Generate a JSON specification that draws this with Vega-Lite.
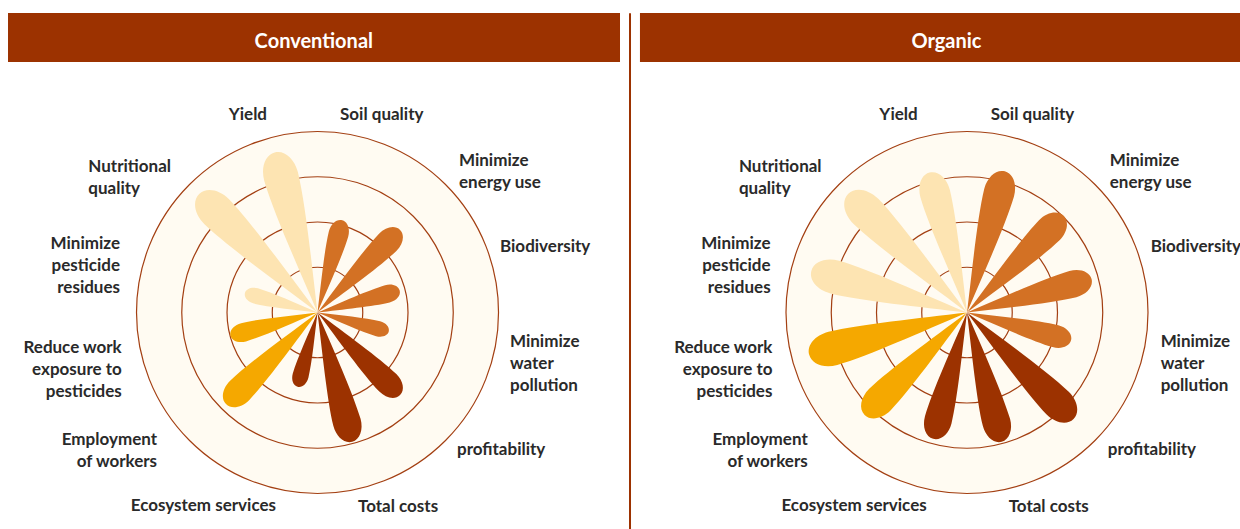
{
  "$schema": "https://vega.github.io/schema/vega-lite/v6.json",
  "padding": 0,
  "background": "white",
  "spacing": 0,
  "bounds": "flush",
  "config": {
    "view": {"stroke": null},
    "concat": {"spacing": 0},
    "text": {"font": "Lato", "fontSize": 17, "fontWeight": "bold", "color": "#2a2a2a", "lineHeight": 22, "baseline": "alphabetic"}
  },
  "datasets": {
    "petals": [
      {"system": "Conventional", "criterion": "Soil quality", "group": "Environmental", "value": 2.11},
      {"system": "Conventional", "criterion": "Minimize energy use", "group": "Environmental", "value": 2.58},
      {"system": "Conventional", "criterion": "Biodiversity", "group": "Environmental", "value": 1.88},
      {"system": "Conventional", "criterion": "Minimize water pollution", "group": "Environmental", "value": 1.63},
      {"system": "Conventional", "criterion": "profitability", "group": "Economic", "value": 2.58},
      {"system": "Conventional", "criterion": "Total costs", "group": "Economic", "value": 2.96},
      {"system": "Conventional", "criterion": "Ecosystem services", "group": "Economic", "value": 1.70},
      {"system": "Conventional", "criterion": "Employment of workers", "group": "Social", "value": 2.86},
      {"system": "Conventional", "criterion": "Reduce work exposure to pesticides", "group": "Social", "value": 1.99},
      {"system": "Conventional", "criterion": "Minimize pesticide residues", "group": "Production", "value": 1.66},
      {"system": "Conventional", "criterion": "Nutritional quality", "group": "Production", "value": 3.70},
      {"system": "Conventional", "criterion": "Yield", "group": "Production", "value": 3.66},
      {"system": "Organic", "criterion": "Soil quality", "group": "Environmental", "value": 3.23},
      {"system": "Organic", "criterion": "Minimize energy use", "group": "Environmental", "value": 3.02},
      {"system": "Organic", "criterion": "Biodiversity", "group": "Environmental", "value": 2.85},
      {"system": "Organic", "criterion": "Minimize water pollution", "group": "Environmental", "value": 2.38},
      {"system": "Organic", "criterion": "profitability", "group": "Economic", "value": 3.33},
      {"system": "Organic", "criterion": "Total costs", "group": "Economic", "value": 2.96},
      {"system": "Organic", "criterion": "Ecosystem services", "group": "Economic", "value": 2.89},
      {"system": "Organic", "criterion": "Employment of workers", "group": "Social", "value": 3.20},
      {"system": "Organic", "criterion": "Reduce work exposure to pesticides", "group": "Social", "value": 3.61},
      {"system": "Organic", "criterion": "Minimize pesticide residues", "group": "Production", "value": 3.56},
      {"system": "Organic", "criterion": "Nutritional quality", "group": "Production", "value": 3.71},
      {"system": "Organic", "criterion": "Yield", "group": "Production", "value": 3.20}
    ],
    "rings": [{"ring": 1}, {"ring": 2}, {"ring": 3}, {"ring": 4}]
  },
  "hconcat": [
    {
      "width": 631,
      "height": 529,
      "data": {"name": "petals"},
      "transform": [{"filter": {"field": "system", "equal": "Conventional"}}],
      "resolve": {"scale": {"size": "independent"}},
      "layer": [
        {
          "transform": [{"filter": {"field": "criterion", "equal": "Yield"}}],
          "mark": {"type": "rect", "color": "#9C3200"},
          "encoding": {
            "x": {"datum": -6.840, "scale": {"domain": [-7.017, 6.928], "nice": false, "zero": false}, "axis": null},
            "x2": {"datum": 6.685},
            "y": {"datum": 6.619, "scale": {"domain": [-4.785, 6.906], "nice": false, "zero": false}, "axis": null},
            "y2": {"datum": 5.536}
          }
        },
        {
          "transform": [{"filter": {"field": "criterion", "equal": "Yield"}}],
          "mark": {"type": "text", "align": "center", "fontSize": 20, "color": "#ffffff"},
          "encoding": {
            "x": {"datum": -0.082, "scale": {"domain": [-7.017, 6.928], "nice": false, "zero": false}, "axis": null},
            "y": {"datum": 5.852, "scale": {"domain": [-4.785, 6.906], "nice": false, "zero": false}, "axis": null},
            "text": {"field": "system"}
          }
        },
        {
          "transform": [{"filter": {"field": "criterion", "equal": "Yield"}}],
          "mark": {"type": "rule", "color": "#9C3200", "strokeWidth": 2},
          "encoding": {
            "x": {"datum": 6.906, "scale": {"domain": [-7.017, 6.928], "nice": false, "zero": false}, "axis": null},
            "y": {"datum": 6.613, "scale": {"domain": [-4.785, 6.906], "nice": false, "zero": false}, "axis": null},
            "y2": {"datum": -4.785}
          }
        },
        {
          "data": {"name": "rings"},
          "transform": [{"filter": "datum.ring === 4"}],
          "mark": {"type": "point", "shape": "circle", "filled": true, "fill": "#FFFBF2", "stroke": "#A33F12", "strokeWidth": 1.2, "opacity": 1},
          "encoding": {
            "x": {"datum": 0, "scale": {"domain": [-7.017, 6.928], "nice": false, "zero": false}, "axis": null},
            "y": {"datum": 0, "scale": {"domain": [-4.785, 6.906], "nice": false, "zero": false}, "axis": null},
            "size": {"field": "ring", "type": "quantitative", "scale": {"type": "pow", "exponent": 2, "domain": [0, 4], "range": [0, 131044]}, "legend": null}
          }
        },
        {
          "data": {"name": "rings"},
          "transform": [{"filter": "datum.ring < 4"}],
          "mark": {"type": "point", "shape": "circle", "filled": false, "stroke": "#A33F12", "strokeWidth": 1.2, "opacity": 1},
          "encoding": {
            "x": {"datum": 0, "scale": {"domain": [-7.017, 6.928], "nice": false, "zero": false}, "axis": null},
            "y": {"datum": 0, "scale": {"domain": [-4.785, 6.906], "nice": false, "zero": false}, "axis": null},
            "size": {"field": "ring", "type": "quantitative", "scale": {"type": "pow", "exponent": 2, "domain": [0, 4], "range": [0, 131044]}, "legend": null}
          }
        },
        {
          "mark": {"type": "point", "shape": "M0,0C-0.085,-0.6 -0.2,-1.3 -0.21,-1.7C-0.21,-1.87 -0.12,-2 0,-2C0.12,-2 0.21,-1.87 0.21,-1.7C0.2,-1.3 0.085,-0.6 0,0Z", "filled": true, "opacity": 1, "strokeWidth": 0},
          "encoding": {
            "x": {"datum": 0, "scale": {"domain": [-7.017, 6.928], "nice": false, "zero": false}, "axis": null},
            "y": {"datum": 0, "scale": {"domain": [-4.785, 6.906], "nice": false, "zero": false}, "axis": null},
            "size": {"field": "value", "type": "quantitative", "scale": {"type": "pow", "exponent": 2, "domain": [0, 4], "range": [0, 32761]}, "legend": null},
            "angle": {"field": "criterion", "type": "nominal", "scale": {"type": "ordinal", "domain": ["Soil quality", "Minimize energy use", "Biodiversity", "Minimize water pollution", "profitability", "Total costs", "Ecosystem services", "Employment of workers", "Reduce work exposure to pesticides", "Minimize pesticide residues", "Nutritional quality", "Yield"], "range": [15, 45, 75, 105, 135, 165, 195, 225, 255, 285, 315, 345]}, "legend": null},
            "color": {"field": "group", "type": "nominal", "scale": {"domain": ["Environmental", "Economic", "Social", "Production"], "range": ["#D37124", "#9C3200", "#F5A800", "#FDE4B2"]}, "legend": null}
          }
        },
        {"transform": [{"filter": {"field": "criterion", "equal": "Yield"}}], "mark": {"type": "text", "text": "Yield", "align": "right"},
         "encoding": {"x": {"datum": -1.116, "scale": {"domain": [-7.017, 6.928], "nice": false, "zero": false}, "axis": null}, "y": {"datum": 4.248, "scale": {"domain": [-4.785, 6.906], "nice": false, "zero": false}, "axis": null}}},
        {"transform": [{"filter": {"field": "criterion", "equal": "Soil quality"}}], "mark": {"type": "text", "text": "Soil quality", "align": "left"},
         "encoding": {"x": {"datum": 0.497, "scale": {"domain": [-7.017, 6.928], "nice": false, "zero": false}, "axis": null}, "y": {"datum": 4.265, "scale": {"domain": [-4.785, 6.906], "nice": false, "zero": false}, "axis": null}}},
        {"transform": [{"filter": {"field": "criterion", "equal": "Minimize energy use"}}], "mark": {"type": "text", "text": ["Minimize", "energy use"], "align": "left"},
         "encoding": {"x": {"datum": 3.127, "scale": {"domain": [-7.017, 6.928], "nice": false, "zero": false}, "axis": null}, "y": {"datum": 3.238, "scale": {"domain": [-4.785, 6.906], "nice": false, "zero": false}, "axis": null}}},
        {"transform": [{"filter": {"field": "criterion", "equal": "Biodiversity"}}], "mark": {"type": "text", "text": "Biodiversity", "align": "left"},
         "encoding": {"x": {"datum": 4.033, "scale": {"domain": [-7.017, 6.928], "nice": false, "zero": false}, "axis": null}, "y": {"datum": 1.330, "scale": {"domain": [-4.785, 6.906], "nice": false, "zero": false}, "axis": null}}},
        {"transform": [{"filter": {"field": "criterion", "equal": "Minimize water pollution"}}], "mark": {"type": "text", "text": ["Minimize", "water", "pollution"], "align": "left"},
         "encoding": {"x": {"datum": 4.254, "scale": {"domain": [-7.017, 6.928], "nice": false, "zero": false}, "axis": null}, "y": {"datum": -0.756, "scale": {"domain": [-4.785, 6.906], "nice": false, "zero": false}, "axis": null}}},
        {"transform": [{"filter": {"field": "criterion", "equal": "profitability"}}], "mark": {"type": "text", "text": "profitability", "align": "left"},
         "encoding": {"x": {"datum": 3.083, "scale": {"domain": [-7.017, 6.928], "nice": false, "zero": false}, "axis": null}, "y": {"datum": -3.149, "scale": {"domain": [-4.785, 6.906], "nice": false, "zero": false}, "axis": null}}},
        {"transform": [{"filter": {"field": "criterion", "equal": "Total costs"}}], "mark": {"type": "text", "text": "Total costs", "align": "left"},
         "encoding": {"x": {"datum": 0.895, "scale": {"domain": [-7.017, 6.928], "nice": false, "zero": false}, "axis": null}, "y": {"datum": -4.409, "scale": {"domain": [-4.785, 6.906], "nice": false, "zero": false}, "axis": null}}},
        {"transform": [{"filter": {"field": "criterion", "equal": "Ecosystem services"}}], "mark": {"type": "text", "text": "Ecosystem services", "align": "right"},
         "encoding": {"x": {"datum": -0.917, "scale": {"domain": [-7.017, 6.928], "nice": false, "zero": false}, "axis": null}, "y": {"datum": -4.387, "scale": {"domain": [-4.785, 6.906], "nice": false, "zero": false}, "axis": null}}},
        {"transform": [{"filter": {"field": "criterion", "equal": "Employment of workers"}}], "mark": {"type": "text", "text": ["Employment", "of workers"], "align": "right"},
         "encoding": {"x": {"datum": -3.547, "scale": {"domain": [-7.017, 6.928], "nice": false, "zero": false}, "axis": null}, "y": {"datum": -2.928, "scale": {"domain": [-4.785, 6.906], "nice": false, "zero": false}, "axis": null}}},
        {"transform": [{"filter": {"field": "criterion", "equal": "Reduce work exposure to pesticides"}}], "mark": {"type": "text", "text": ["Reduce work", "exposure to", "pesticides"], "align": "right"},
         "encoding": {"x": {"datum": -4.327, "scale": {"domain": [-7.017, 6.928], "nice": false, "zero": false}, "axis": null}, "y": {"datum": -0.902, "scale": {"domain": [-4.785, 6.906], "nice": false, "zero": false}, "axis": null}}},
        {"transform": [{"filter": {"field": "criterion", "equal": "Minimize pesticide residues"}}], "mark": {"type": "text", "text": ["Minimize", "pesticide", "residues"], "align": "right"},
         "encoding": {"x": {"datum": -4.365, "scale": {"domain": [-7.017, 6.928], "nice": false, "zero": false}, "axis": null}, "y": {"datum": 1.403, "scale": {"domain": [-4.785, 6.906], "nice": false, "zero": false}, "axis": null}}},
        {"transform": [{"filter": {"field": "criterion", "equal": "Nutritional quality"}}], "mark": {"type": "text", "text": ["Nutritional", "quality"], "align": "left"},
         "encoding": {"x": {"datum": -5.065, "scale": {"domain": [-7.017, 6.928], "nice": false, "zero": false}, "axis": null}, "y": {"datum": 3.112, "scale": {"domain": [-4.785, 6.906], "nice": false, "zero": false}, "axis": null}}}
      ]
    },
    {
      "width": 609,
      "height": 529,
      "data": {"name": "petals"},
      "transform": [{"filter": {"field": "system", "equal": "Organic"}}],
      "resolve": {"scale": {"size": "independent"}},
      "layer": [
        {
          "transform": [{"filter": {"field": "criterion", "equal": "Yield"}}],
          "mark": {"type": "rect", "color": "#9C3200"},
          "encoding": {
            "x": {"datum": -7.227, "scale": {"domain": [-7.425, 6.033], "nice": false, "zero": false}, "axis": null},
            "x2": {"datum": 6.033},
            "y": {"datum": 6.619, "scale": {"domain": [-4.785, 6.906], "nice": false, "zero": false}, "axis": null},
            "y2": {"datum": 5.536}
          }
        },
        {
          "transform": [{"filter": {"field": "criterion", "equal": "Yield"}}],
          "mark": {"type": "text", "align": "center", "fontSize": 20, "color": "#ffffff"},
          "encoding": {
            "x": {"datum": -0.453, "scale": {"domain": [-7.425, 6.033], "nice": false, "zero": false}, "axis": null},
            "y": {"datum": 5.852, "scale": {"domain": [-4.785, 6.906], "nice": false, "zero": false}, "axis": null},
            "text": {"field": "system"}
          }
        },
        {
          "data": {"name": "rings"},
          "transform": [{"filter": "datum.ring === 4"}],
          "mark": {"type": "point", "shape": "circle", "filled": true, "fill": "#FFFBF2", "stroke": "#A33F12", "strokeWidth": 1.2, "opacity": 1},
          "encoding": {
            "x": {"datum": 0, "scale": {"domain": [-7.425, 6.033], "nice": false, "zero": false}, "axis": null},
            "y": {"datum": 0, "scale": {"domain": [-4.785, 6.906], "nice": false, "zero": false}, "axis": null},
            "size": {"field": "ring", "type": "quantitative", "scale": {"type": "pow", "exponent": 2, "domain": [0, 4], "range": [0, 131044]}, "legend": null}
          }
        },
        {
          "data": {"name": "rings"},
          "transform": [{"filter": "datum.ring < 4"}],
          "mark": {"type": "point", "shape": "circle", "filled": false, "stroke": "#A33F12", "strokeWidth": 1.2, "opacity": 1},
          "encoding": {
            "x": {"datum": 0, "scale": {"domain": [-7.425, 6.033], "nice": false, "zero": false}, "axis": null},
            "y": {"datum": 0, "scale": {"domain": [-4.785, 6.906], "nice": false, "zero": false}, "axis": null},
            "size": {"field": "ring", "type": "quantitative", "scale": {"type": "pow", "exponent": 2, "domain": [0, 4], "range": [0, 131044]}, "legend": null}
          }
        },
        {
          "mark": {"type": "point", "shape": "M0,0C-0.085,-0.6 -0.2,-1.3 -0.21,-1.7C-0.21,-1.87 -0.12,-2 0,-2C0.12,-2 0.21,-1.87 0.21,-1.7C0.2,-1.3 0.085,-0.6 0,0Z", "filled": true, "opacity": 1, "strokeWidth": 0},
          "encoding": {
            "x": {"datum": 0, "scale": {"domain": [-7.425, 6.033], "nice": false, "zero": false}, "axis": null},
            "y": {"datum": 0, "scale": {"domain": [-4.785, 6.906], "nice": false, "zero": false}, "axis": null},
            "size": {"field": "value", "type": "quantitative", "scale": {"type": "pow", "exponent": 2, "domain": [0, 4], "range": [0, 32761]}, "legend": null},
            "angle": {"field": "criterion", "type": "nominal", "scale": {"type": "ordinal", "domain": ["Soil quality", "Minimize energy use", "Biodiversity", "Minimize water pollution", "profitability", "Total costs", "Ecosystem services", "Employment of workers", "Reduce work exposure to pesticides", "Minimize pesticide residues", "Nutritional quality", "Yield"], "range": [15, 45, 75, 105, 135, 165, 195, 225, 255, 285, 315, 345]}, "legend": null},
            "color": {"field": "group", "type": "nominal", "scale": {"domain": ["Environmental", "Economic", "Social", "Production"], "range": ["#D37124", "#9C3200", "#F5A800", "#FDE4B2"]}, "legend": null}
          }
        },
        {"transform": [{"filter": {"field": "criterion", "equal": "Yield"}}], "mark": {"type": "text", "text": "Yield", "align": "right", "clip": true},
         "encoding": {"x": {"datum": -1.09, "scale": {"domain": [-7.425, 6.033], "nice": false, "zero": false}, "axis": null}, "y": {"datum": 4.248, "scale": {"domain": [-4.785, 6.906], "nice": false, "zero": false}, "axis": null}}},
        {"transform": [{"filter": {"field": "criterion", "equal": "Soil quality"}}], "mark": {"type": "text", "text": "Soil quality", "align": "left", "clip": true},
         "encoding": {"x": {"datum": 0.525, "scale": {"domain": [-7.425, 6.033], "nice": false, "zero": false}, "axis": null}, "y": {"datum": 4.265, "scale": {"domain": [-4.785, 6.906], "nice": false, "zero": false}, "axis": null}}},
        {"transform": [{"filter": {"field": "criterion", "equal": "Minimize energy use"}}], "mark": {"type": "text", "text": ["Minimize", "energy use"], "align": "left", "clip": true},
         "encoding": {"x": {"datum": 3.155, "scale": {"domain": [-7.425, 6.033], "nice": false, "zero": false}, "axis": null}, "y": {"datum": 3.238, "scale": {"domain": [-4.785, 6.906], "nice": false, "zero": false}, "axis": null}}},
        {"transform": [{"filter": {"field": "criterion", "equal": "Biodiversity"}}], "mark": {"type": "text", "text": "Biodiversity", "align": "left", "clip": true},
         "encoding": {"x": {"datum": 4.06, "scale": {"domain": [-7.425, 6.033], "nice": false, "zero": false}, "axis": null}, "y": {"datum": 1.330, "scale": {"domain": [-4.785, 6.906], "nice": false, "zero": false}, "axis": null}}},
        {"transform": [{"filter": {"field": "criterion", "equal": "Minimize water pollution"}}], "mark": {"type": "text", "text": ["Minimize", "water", "pollution"], "align": "left", "clip": true},
         "encoding": {"x": {"datum": 4.28, "scale": {"domain": [-7.425, 6.033], "nice": false, "zero": false}, "axis": null}, "y": {"datum": -0.756, "scale": {"domain": [-4.785, 6.906], "nice": false, "zero": false}, "axis": null}}},
        {"transform": [{"filter": {"field": "criterion", "equal": "profitability"}}], "mark": {"type": "text", "text": "profitability", "align": "left", "clip": true},
         "encoding": {"x": {"datum": 3.11, "scale": {"domain": [-7.425, 6.033], "nice": false, "zero": false}, "axis": null}, "y": {"datum": -3.149, "scale": {"domain": [-4.785, 6.906], "nice": false, "zero": false}, "axis": null}}},
        {"transform": [{"filter": {"field": "criterion", "equal": "Total costs"}}], "mark": {"type": "text", "text": "Total costs", "align": "left", "clip": true},
         "encoding": {"x": {"datum": 0.92, "scale": {"domain": [-7.425, 6.033], "nice": false, "zero": false}, "axis": null}, "y": {"datum": -4.409, "scale": {"domain": [-4.785, 6.906], "nice": false, "zero": false}, "axis": null}}},
        {"transform": [{"filter": {"field": "criterion", "equal": "Ecosystem services"}}], "mark": {"type": "text", "text": "Ecosystem services", "align": "right", "clip": true},
         "encoding": {"x": {"datum": -0.89, "scale": {"domain": [-7.425, 6.033], "nice": false, "zero": false}, "axis": null}, "y": {"datum": -4.387, "scale": {"domain": [-4.785, 6.906], "nice": false, "zero": false}, "axis": null}}},
        {"transform": [{"filter": {"field": "criterion", "equal": "Employment of workers"}}], "mark": {"type": "text", "text": ["Employment", "of workers"], "align": "right", "clip": true},
         "encoding": {"x": {"datum": -3.52, "scale": {"domain": [-7.425, 6.033], "nice": false, "zero": false}, "axis": null}, "y": {"datum": -2.928, "scale": {"domain": [-4.785, 6.906], "nice": false, "zero": false}, "axis": null}}},
        {"transform": [{"filter": {"field": "criterion", "equal": "Reduce work exposure to pesticides"}}], "mark": {"type": "text", "text": ["Reduce work", "exposure to", "pesticides"], "align": "right", "clip": true},
         "encoding": {"x": {"datum": -4.30, "scale": {"domain": [-7.425, 6.033], "nice": false, "zero": false}, "axis": null}, "y": {"datum": -0.902, "scale": {"domain": [-4.785, 6.906], "nice": false, "zero": false}, "axis": null}}},
        {"transform": [{"filter": {"field": "criterion", "equal": "Minimize pesticide residues"}}], "mark": {"type": "text", "text": ["Minimize", "pesticide", "residues"], "align": "right", "clip": true},
         "encoding": {"x": {"datum": -4.34, "scale": {"domain": [-7.425, 6.033], "nice": false, "zero": false}, "axis": null}, "y": {"datum": 1.403, "scale": {"domain": [-4.785, 6.906], "nice": false, "zero": false}, "axis": null}}},
        {"transform": [{"filter": {"field": "criterion", "equal": "Nutritional quality"}}], "mark": {"type": "text", "text": ["Nutritional", "quality"], "align": "left", "clip": true},
         "encoding": {"x": {"datum": -5.04, "scale": {"domain": [-7.425, 6.033], "nice": false, "zero": false}, "axis": null}, "y": {"datum": 3.112, "scale": {"domain": [-4.785, 6.906], "nice": false, "zero": false}, "axis": null}}}
      ]
    }
  ]
}
